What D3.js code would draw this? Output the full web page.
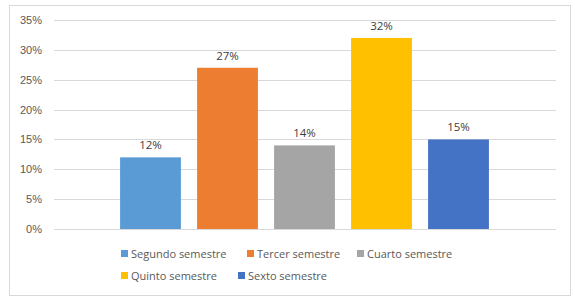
<!DOCTYPE html>
<html>
<head>
	<meta charset="utf-8">
	<title>Semestres</title>
	<style type="text/css">
		body {
			margin: 0;
			background: #fff;
			font-family: "Open Sans", "Liberation Sans", sans-serif;
		}

		.tick text {
			fill: #595959;
			font-size: 11px;
		}

		.grid line {
			stroke: #d9d9d9;
			stroke-width: 1;
		}

		.label {
			fill: #404040;
			font-size: 11.5px;
		}

		.legend-text {
			fill: #595959;
			font-size: 11px;
		}
	</style>
</head>
<body>
	<div id="chart"></div>
	<script src="https://d3js.org/d3.v7.min.js"></script>
	<script type="text/javascript">
		var width = 575,
			height = 300;

		// data
		var series = ["Segundo semestre", "Tercer semestre", "Cuarto semestre", "Quinto semestre", "Sexto semestre"];
		var values = [0.12, 0.27, 0.14, 0.32, 0.15];
		var colors = ["#5b9bd5", "#ed7d31", "#a5a5a5", "#ffc000", "#4472c4"];
		var yTicks = [0, 0.05, 0.10, 0.15, 0.20, 0.25, 0.30, 0.35];

		var svg = d3.select("#chart")
			.append("svg")
			.attr("width", width)
			.attr("height", height);

		// chart border
		svg.append("rect")
			.attr("x", 9.5)
			.attr("y", 5.5)
			.attr("width", 561)
			.attr("height", 290)
			.attr("fill", "#fff")
			.attr("stroke", "#d9d9d9");

		var plotLeft = 54, plotRight = 556;

		var y = d3.scaleLinear()
			.domain([0, 0.35])
			.range([229, 20]);

		var x = d3.scaleBand()
			.domain(series)
			.range([112, 497])
			.paddingInner(0.21)
			.paddingOuter(0.105);

		// gridlines
		svg.append("g")
			.attr("class", "grid")
			.selectAll("line")
			.data(yTicks)
			.enter()
			.append("line")
			.attr("x1", plotLeft)
			.attr("x2", plotRight)
			.attr("y1", function(d) { return Math.round(y(d)) + 0.5; })
			.attr("y2", function(d) { return Math.round(y(d)) + 0.5; });

		// y axis labels only
		var yAxis = d3.axisLeft(y)
			.tickValues(yTicks)
			.tickSize(0)
			.tickPadding(0)
			.tickFormat(d3.format(".0%"));

		svg.append("g")
			.attr("transform", "translate(42,0)")
			.call(yAxis)
			.call(function(g) { g.select(".domain").remove(); })
			.selectAll("text")
			.attr("font-family", null);

		// bars
		svg.selectAll(".bar")
			.data(values)
			.enter()
			.append("rect")
			.attr("class", "bar")
			.attr("x", function(d, i) { return x(series[i]); })
			.attr("width", x.bandwidth())
			.attr("y", function(d) { return y(d); })
			.attr("height", function(d) { return y(0) - y(d); })
			.attr("fill", function(d, i) { return colors[i]; });

		// value labels
		svg.selectAll(".label")
			.data(values)
			.enter()
			.append("text")
			.attr("class", "label")
			.attr("x", function(d, i) { return x(series[i]) + x.bandwidth() / 2; })
			.attr("y", function(d) { return y(d) - 8; })
			.attr("text-anchor", "middle")
			.text(function(d) { return d3.format(".0%")(d); });

		// legend, two rows like the original
		var legendPos = [[121, 254], [247, 254], [357, 254], [121, 276], [238, 276]];

		var legend = svg.append("g")
			.selectAll("g")
			.data(series)
			.enter()
			.append("g")
			.attr("transform", function(d, i) {
				return "translate(" + legendPos[i][0] + "," + legendPos[i][1] + ")";
			});

		legend.append("rect")
			.attr("x", 0)
			.attr("y", -4)
			.attr("width", 7)
			.attr("height", 7)
			.attr("fill", function(d, i) { return colors[i]; });

		legend.append("text")
			.attr("class", "legend-text")
			.attr("x", 10)
			.attr("y", 4)
			.text(function(d) { return d; });
	</script>
</body>
</html>
